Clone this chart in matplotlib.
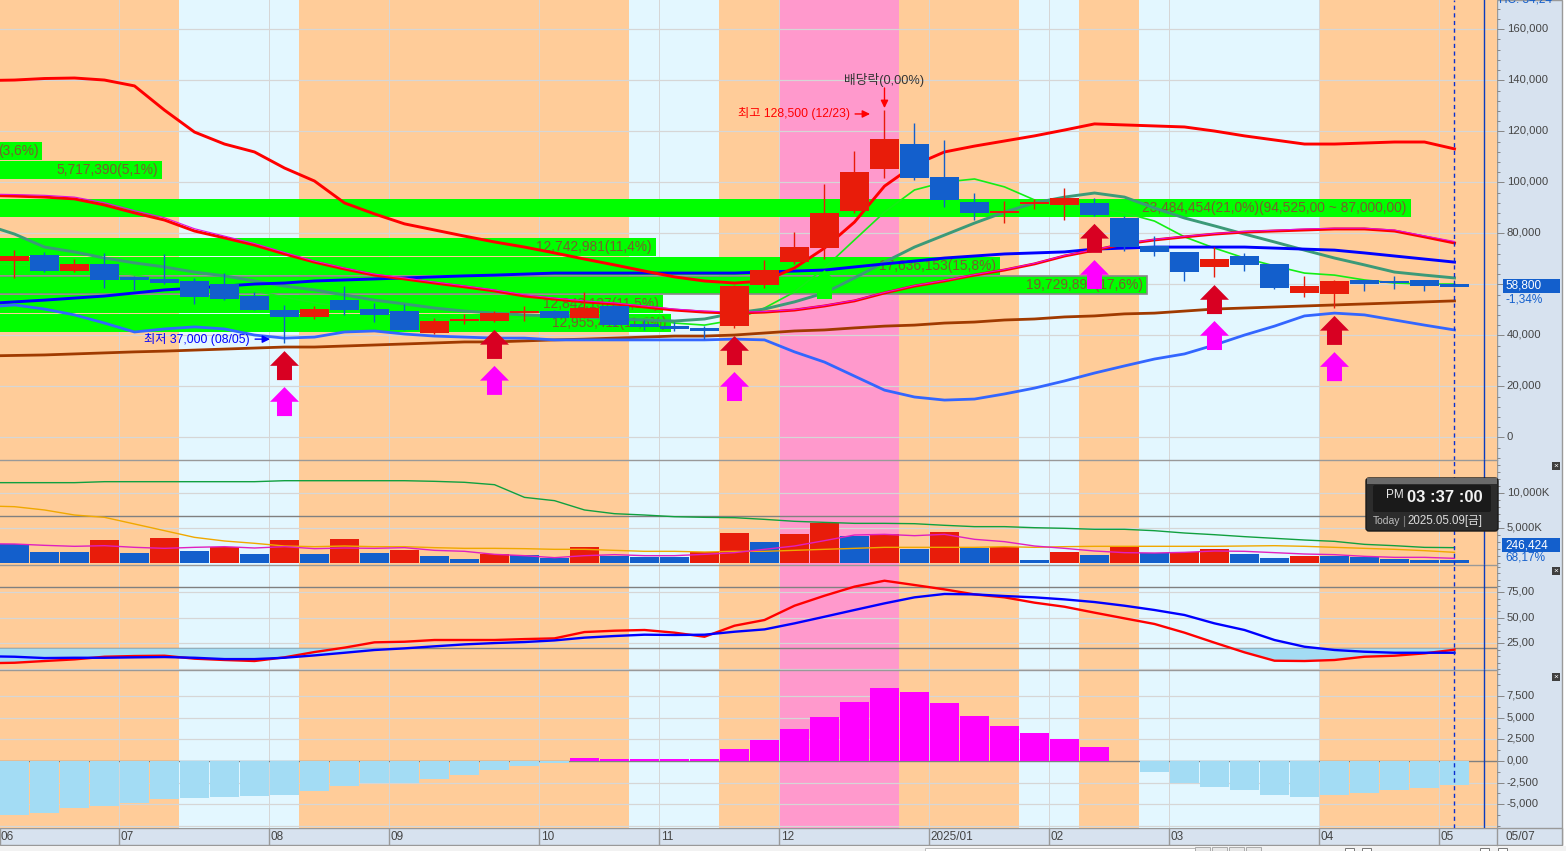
#! /usr/bin/python3

import numpy as np
import matplotlib
matplotlib.use("Agg")
import matplotlib.pyplot as plt
from matplotlib.patches import Polygon, Rectangle, FancyBboxPatch
from matplotlib.ticker import FuncFormatter, MultipleLocator
from matplotlib.transforms import ScaledTranslation

plt.rcParams['font.family'] = ['Liberation Sans', 'Noto Sans CJK KR', 'DejaVu Sans']

# weekly candles, prices in thousand won
opens = [69.3, 71.4, 65.2, 68.0, 62.9, 62.1, 61.3, 60.1, 55.4, 49.9, 47.2, 53.8, 50.3, 49.5, 40.9, 45.6, 45.6,
         48.9, 49.6, 46.9, 51.6, 44.4, 43.6, 42.9, 43.6, 59.7, 68.7, 74.2, 88.7, 105.2, 115.0, 102.1, 92.3,
         88.0, 91.5, 91.1, 91.9, 86.0, 75.0, 72.7, 66.8, 71.1, 68.0, 56.6, 56.2, 61.7, 61.3, 61.7, 60.1]
closes = [71.1, 65.2, 68.0, 61.8, 61.7, 60.5, 55.1, 54.2, 49.9, 47.2, 50.3, 49.9, 48.0, 42.1, 45.6, 46.4, 48.7,
          49.6, 46.9, 50.8, 44.0, 43.1, 42.5, 41.7, 59.3, 65.6, 74.6, 88.0, 104.0, 117.0, 101.7, 93.1, 88.0,
          88.7, 92.3, 93.8, 87.2, 74.7, 72.7, 64.8, 69.9, 67.6, 58.55, 59.3, 61.3, 60.1, 60.5, 59.3, 58.8]
highs = [73.4, 72.5, 69.9, 72.2, 63.3, 71.9, 62.5, 64.4, 57.0, 51.9, 51.5, 59.3, 52.7, 52.3, 46.8, 48.3, 49.5,
         51.5, 49.9, 57.0, 51.9, 46.0, 45.2, 43.6, 59.7, 69.5, 80.5, 99.3, 112.3, 128.5, 123.3, 116.6, 95.8,
         92.7, 93.5, 97.8, 93.8, 86.8, 78.9, 72.7, 74.7, 72.3, 68.0, 63.3, 61.7, 61.7, 63.3, 61.7, 60.1]
lows = [62.6, 64.8, 64.8, 58.7, 57.8, 60.1, 52.3, 53.8, 49.9, 37.1, 46.4, 48.0, 45.2, 42.1, 40.5, 44.4, 45.2,
        45.7, 46.8, 46.8, 43.8, 42.1, 41.7, 38.4, 43.0, 58.7, 68.0, 69.9, 88.0, 101.7, 100.9, 90.3, 85.2,
        84.0, 89.5, 85.2, 86.8, 73.2, 71.1, 61.3, 62.9, 65.2, 58.2, 55.0, 50.7, 57.4, 58.2, 57.4, 58.8]

# line series start one week before the first candle, that week is off the left edge
band_upper = [139.9, 140.1, 140.7, 140.9, 140.1, 137.8, 128.3, 119.7, 115.0, 111.9, 105.6, 100.5, 91.9, 87.6, 83.7,
              81.3, 78.9, 76.6, 74.6, 72.3, 69.9, 67.6, 65.2, 62.9, 61.3, 60.5, 61.3, 66.4, 74.2, 84.4, 98.5, 106.8,
              111.9, 114.2, 116.2, 118.2, 120.5, 122.9, 122.5, 122.1, 121.7, 120.1, 118.2, 116.6, 115.0, 115.0,
              115.4, 115.8, 115.8, 113.1]
ma_red = [94.9, 94.6, 94.2, 93.5, 91.1, 88.0, 85.2, 80.9, 78.2, 75.4, 71.9, 68.7, 66.0, 63.6, 62.1, 60.5, 59.0, 57.4,
          55.4, 54.2, 53.1, 52.3, 51.1, 49.9, 49.1, 48.7, 49.1, 49.9, 51.5, 53.5, 56.6, 59.3, 61.3, 63.6, 65.6,
          68.0, 71.1, 73.4, 75.8, 77.4, 78.6, 79.7, 80.5, 80.9, 81.3, 81.7, 81.7, 80.9, 78.6, 76.2]
ma_magenta = [95.4, 95.2, 94.9, 94.2, 92.0, 88.9, 86.1, 81.8, 78.9, 76.0, 72.5, 69.1, 66.4, 64.0, 62.5, 60.9, 59.4,
              57.8, 55.9, 54.6, 53.5, 52.7, 51.5, 50.3, 49.5, 49.1, 49.3, 50.1, 51.7, 53.7, 56.8, 59.5, 61.5, 63.8,
              65.8, 68.2, 71.3, 73.6, 76.0, 77.6, 78.8, 79.9, 80.7, 81.2, 81.7, 82.0, 82.0, 81.3, 79.0, 76.8]
ma_teal = [83.5, 79.7, 74.6, 72.7, 70.3, 68.4, 66.8, 64.8, 63.3, 61.3, 59.3, 57.8, 55.8, 53.8, 52.3, 50.7, 49.5, 48.7,
           48.0, 47.6, 47.2, 46.4, 46.0, 45.6, 46.4, 48.7, 50.3, 53.1, 56.6, 62.5, 68.7, 74.6, 79.3, 84.0, 88.3,
           91.9, 94.2, 95.8, 94.2, 89.9, 86.0, 82.9, 79.7, 76.6, 73.4, 70.3, 67.6, 64.8, 63.6, 62.5]
ma_lime = [68.0, 67.6, 67.2, 66.4, 65.6, 63.6, 61.7, 60.5, 59.0, 57.4, 55.0, 52.7, 51.1, 49.9, 48.0, 46.8, 46.0, 45.6,
           46.8, 48.0, 48.7, 48.0, 46.8, 44.8, 44.0, 46.0, 50.7, 57.0, 66.4, 77.4, 88.3, 97.0, 100.1, 101.3, 98.2,
           93.1, 91.1, 90.3, 88.0, 84.8, 78.6, 74.2, 70.3, 67.2, 64.4, 63.6, 61.7, 60.5, 60.1, 60.1]
ma_blue = [52.4, 53.1, 53.8, 54.6, 55.4, 56.6, 57.8, 58.5, 59.3, 60.1, 60.5, 61.3, 61.7, 62.1, 62.5, 62.9, 63.3, 63.6,
           64.0, 64.4, 64.4, 64.4, 64.4, 64.4, 64.4, 64.4, 64.8, 65.2, 65.6, 66.8, 68.0, 69.1, 70.3, 71.1, 71.9,
           72.3, 72.7, 73.8, 74.2, 74.6, 74.6, 74.6, 74.6, 74.2, 73.8, 73.4, 72.3, 71.1, 69.9, 68.7]
ma_brown = [31.9, 32.1, 32.3, 32.7, 33.1, 33.5, 33.8, 34.2, 34.6, 35.0, 35.4, 35.4, 35.8, 36.2, 36.6, 37.0, 37.4, 37.4,
            37.8, 38.2, 38.5, 38.9, 39.3, 39.7, 39.7, 40.1, 40.9, 41.7, 42.1, 42.9, 43.6, 44.0, 44.8, 45.2, 46.0,
            46.4, 47.2, 47.6, 48.4, 48.7, 49.5, 50.3, 50.7, 51.1, 51.5, 51.9, 52.3, 52.7, 53.1, 53.5]
band_lower = [51.0, 51.9, 50.3, 48.0, 44.8, 41.3, 42.5, 43.3, 42.5, 40.1, 38.9, 39.3, 41.3, 41.7, 40.5, 39.7, 39.3,
              38.9, 38.9, 38.2, 38.2, 38.2, 38.2, 38.2, 38.2, 38.5, 38.2, 33.5, 29.5, 24.0, 18.5, 15.8, 14.6, 15.0,
              17.0, 19.3, 22.1, 25.2, 28.0, 30.7, 32.7, 36.2, 40.1, 43.6, 47.6, 48.7, 48.0, 46.0, 44.0, 42.1]

# volume by price bars on the left
profile_price = [112.3, 104.8, 89.9, 74.6, 67.2, 59.7, 52.3, 44.8]
profile_vol = [4018000, 5717390, 23484454, 12742981, 17636153, 19729894, 12842137, 12955411]
profile_text = ["(3,6%)", "5,717,390(5,1%)", "23,484,454(21,0%)(94,525,00 ~ 87,000,00)", "12,742,981(11,4%)",
                "17,636,153(15,8%)", "19,729,894(17,6%)", "12,842,137(11,5%)", "12,955,411(11,6%)"]

# signal arrows
arrow_idx = [9, 16, 24, 36, 40, 44]
arrow_red_tip = [33.8, 42.1, 39.7, 83.7, 59.7, 47.6]
arrow_mag_tip = [19.7, 28.0, 25.6, 69.5, 45.6, 33.4]
arrow_green_idx = [27]
arrow_green_tip = [65.6]

# volume panel, in K
volumes = [2760, 1620, 1620, 3330, 1476, 3620, 1760, 2380, 1333, 3330, 1333, 3476, 1476, 1905, 1050, 620, 1333,
           1190, 810, 2330, 1095, 905, 905, 1570, 4330, 3050, 4190, 5810, 3900, 4140, 2050, 4475, 2240, 2380,
           476, 1620, 1190, 2330, 1430, 1570, 2050, 1333, 760, 1050, 1050, 905, 620, 476, 450]
vol_up = [0, 0, 0, 1, 0, 1, 0, 1, 0, 1, 0, 1, 0, 1, 0, 0, 1, 0, 0, 1, 0, 0, 0, 1, 1, 0, 1, 1, 0, 1, 0, 1, 0, 1,
          0, 1, 0, 1, 0, 1, 1, 0, 0, 1, 0, 0, 0, 0, 0]
vol_ma_green = [11520, 11520, 11520, 11520, 11660, 11660, 11660, 11660, 11660, 11660, 11800, 11800, 11800, 11800, 11800,
                11710, 11570, 11230, 9420, 8950, 7620, 7090, 6900, 6660, 6570, 6520, 6280, 6000, 5850, 5710, 5710,
                5660, 5430, 5240, 5240, 5090, 5000, 4860, 4860, 4660, 4330, 4090, 3810, 3570, 3330, 3140, 2710,
                2520, 2280, 2240]
vol_ma_orange = [8200, 8090, 7620, 6900, 6570, 5620, 4665, 3710, 3190, 2860, 2475, 2380, 2475, 2380, 2380, 2240, 2140,
                 2140, 2095, 2000, 2000, 1855, 1715, 1715, 1620, 1715, 1715, 1855, 2000, 2140, 2285, 2285, 2285, 2285,
                 2380, 2285, 2380, 2430, 2430, 2430, 2430, 2430, 2475, 2520, 2430, 2285, 2140, 2000, 1810, 1570]
vol_ma_magenta = [2800, 2760, 2570, 2430, 2520, 2285, 2140, 2285, 2380, 2190, 2380, 2095, 2190, 2140, 2240, 1855, 1715,
                  1285, 1095, 810, 1095, 1240, 1095, 1095, 1285, 1525, 2000, 2475, 3240, 4045, 4140, 3950, 4140, 3430,
                  3095, 2475, 2140, 1760, 1525, 1475, 1570, 1760, 1715, 1525, 1333, 1240, 1000, 857, 857, 714]

# oscillator panel
osc_red = [5.5, 6.0, 7.7, 9.3, 11.9, 12.6, 12.9, 10.0, 8.7, 7.7, 11.3, 16.5, 20.8, 26.0, 26.6, 28.3, 28.3, 28.3, 29.2,
           29.9, 36.1, 37.4, 38.1, 35.5, 31.5, 42.3, 47.9, 61.9, 71.7, 80.6, 86.4, 82.2, 77.9, 73.0, 70.1, 64.9, 60.9,
           55.1, 49.5, 44.0, 35.5, 25.7, 16.2, 8.0, 7.7, 8.7, 11.9, 12.9, 15.2, 18.8]
osc_blue = [12.4, 11.9, 10.6, 10.9, 10.9, 11.3, 11.6, 10.9, 9.6, 9.6, 10.9, 13.2, 15.8, 18.5, 20.1, 22.1, 24.0, 25.3,
            26.3, 27.9, 30.6, 32.2, 33.5, 33.2, 33.5, 36.4, 38.7, 44.6, 51.1, 57.7, 64.2, 70.1, 73.4, 73.0, 71.4, 70.1,
            68.1, 65.5, 61.9, 57.7, 52.8, 44.6, 38.1, 28.3, 21.7, 18.5, 16.8, 15.8, 15.8, 15.8]

# MACD histogram
hist_vals = [-6230, -6000, -5385, -5150, -4850, -4385, -4230, -4115, -4000, -3885, -3460, -2850, -2540, -2540, -2080,
             -1615, -1000, -540, -230, 350, 230, 230, 230, 230, 1385, 2420, 3690, 5080, 6810, 8420, 7960, 6690, 5190,
             4040, 3230, 2540, 1615, 0, -1230, -2500, -2960, -3310, -3920, -4115, -3920, -3690, -3310, -3080, -2770]

# background bands, edges in candle index
band_edges = [-8.5, 5.5, 9.5, 20.5, 23.5, 25.5, 29.5, 33.5, 35.5, 37.5, 43.5, 52]
band_colors = ['#ffcc99', '#e3f7ff', '#ffcc99', '#e3f7ff', '#ffcc99', '#ff99cc', '#ffcc99', '#e3f7ff', '#ffcc99',
               '#e3f7ff', '#ffcc99']

month_pos = [-0.5, 3.5, 8.5, 12.5, 17.5, 21.5, 25.5, 30.5, 34.5, 38.5, 43.5, 47.5]
month_labels = ['06', '07', '08', '09', '10', '11', '12', '2025/01', '02', '03', '04', '05']

W, H = 1566, 851
PLOT_R = 1497
X0, X1 = -0.483, 49.417
RED = '#e81c0a'
BLUE = '#135fcc'
GRID = '#d6d6d6'
EDGE = '#999999'
TICKC = '#444444'
PX = 0.72  # one pixel in points


def add_panel(top, bottom, ylim, zorder=1):
    ax = fig.add_axes([0, 1 - bottom / H, PLOT_R / W, (bottom - top) / H], zorder=zorder)
    ax.set_xlim(X0, X1)
    ax.set_ylim(*ylim)
    for left, right, c in zip(band_edges[:-1], band_edges[1:], band_colors):
        ax.axvspan(left, right, color=c, lw=0, zorder=0)
    for p in month_pos:
        ax.axvline(p, color=GRID, lw=PX, zorder=0.5)
    ax.axvline(48, color='#0b2fd0', lw=1.0, ls=(0, (3, 2.5)), zorder=8)
    ax.axvline(49, color='#0a3cc0', lw=1.0, zorder=8)
    ax.set_xticks([])
    ax.yaxis.tick_right()
    ax.tick_params(axis='y', which='major', length=5, width=PX, color='#888888', labelsize=8.1,
                   labelcolor=TICKC, pad=2)
    ax.tick_params(axis='y', which='minor', length=2.5, width=PX, color='#888888')
    for s in ax.spines.values():
        s.set_visible(False)
    if top > 0:
        ax.spines['top'].set_visible(True)
        ax.spines['top'].set_color(EDGE)
        ax.spines['top'].set_linewidth(1.0)
    return ax


def hgrid(ax, values):
    for v in values:
        ax.axhline(v, color=GRID, lw=PX * 1.2, zorder=0.5)


def lift_labels(ax):
    # scale labels sit a little above their tick
    off = ScaledTranslation(0, 1.5 / 100, fig.dpi_scale_trans)
    for lab in ax.get_yticklabels():
        lab.set_transform(lab.get_transform() + off)


def comma_dec(v, pos):
    return f"{v:,.2f}".replace('.', ',')


fig = plt.figure(figsize=(W / 100, H / 100), dpi=100, facecolor='white')

# right scale and bottom strip background
bg = fig.add_axes([0, 0, 1, 1], zorder=0)
bg.set_xlim(0, W)
bg.set_ylim(H, 0)
bg.axis('off')
bg.add_patch(Rectangle((PLOT_R, 0), 65, 845, fc='#d7e2ef', ec=EDGE, lw=1))
bg.add_patch(Rectangle((0, 828), 1562, 17, fc='#d7e2ef', ec=EDGE, lw=1))
bg.add_patch(Rectangle((0, 845.5), W, 6, fc='#f2f2f2', ec='none'))
bg.add_patch(Rectangle((925, 848), 270, 4, fc='white', ec='#bbbbbb', lw=0.7))
for bx in [1195, 1212, 1229, 1246]:
    bg.add_patch(Rectangle((bx, 847), 15, 5, fc='#e8e8e8', ec='#aaaaaa', lw=0.7))
for bx in [1345, 1362, 1480, 1498]:
    bg.add_patch(Rectangle((bx, 848), 9, 4, fc='#ffffff', ec='#777777', lw=0.7))

# price panel
idx = np.arange(len(closes))
line_idx = np.arange(-1, len(closes))
ax = add_panel(0, 460, (-8900, 171490))
ax.yaxis.set_major_locator(MultipleLocator(20000))
ax.yaxis.set_minor_locator(MultipleLocator(4000))
ax.yaxis.set_major_formatter(FuncFormatter(lambda v, p: f"{v:,.0f}"))
hgrid(ax, np.arange(0, 170000, 20000))

bar_left = -8.483
bar_scale = 70.3 / 30 / 1e6
for i, (p, v, t) in enumerate(zip(profile_price, profile_vol, profile_text)):
    edge = '#888888' if i == 5 else 'none'
    right = bar_left + v * bar_scale
    ax.barh(p * 1000, v * bar_scale, left=bar_left, height=7000, color='#00ff00', edgecolor=edge,
            lw=1.2, zorder=1)
    ax.text(right - 0.14, p * 1000, t, ha='right', va='center', color='#7a5c2e', fontsize=9.9, zorder=2,
            clip_on=True)

ax.plot(line_idx, np.array(ma_lime) * 1000, color='#14ee14', lw=1.2, zorder=3)
ax.plot(line_idx, np.array(ma_teal) * 1000, color='#3c9a78', lw=2.1, zorder=3.1)
ax.plot(line_idx, np.array(ma_blue) * 1000, color='#0000ff', lw=2.1, zorder=3.2)
ax.plot(line_idx, np.array(ma_brown) * 1000, color='#a03a00', lw=2.0, zorder=3.2)
ax.plot(line_idx, np.array(band_lower) * 1000, color='#3366ff', lw=2.0, zorder=3.3)
ax.plot(line_idx, np.array(ma_red) * 1000, color='#ff0000', lw=2.1, zorder=3.4)
ax.plot(line_idx, np.array(ma_magenta) * 1000, color='#e010e0', lw=0.8, zorder=3.5)
ax.plot(line_idx, np.array(band_upper) * 1000, color='#ff0000', lw=2.1, zorder=3.6)

o = np.array(opens) * 1000
c = np.array(closes) * 1000
cols = [RED if cc >= oo else BLUE for oo, cc in zip(o, c)]
ax.vlines(idx, np.array(lows) * 1000, np.array(highs) * 1000, colors=cols, lw=1.0, zorder=4)
ax.bar(idx, np.abs(c - o), bottom=np.minimum(o, c), width=29 / 30, color=cols, lw=0, zorder=4.1)


def up_arrow(axis, i, tip, color):
    hw, sw = 0.483, 0.25
    head, total = 5770, 11370
    pts = [(i, tip), (i + hw, tip - head), (i + sw, tip - head), (i + sw, tip - total),
           (i - sw, tip - total), (i - sw, tip - head), (i - hw, tip - head)]
    axis.add_patch(Polygon(pts, closed=True, fc=color, ec='none', zorder=6))


for i, t_r, t_m in zip(arrow_idx, arrow_red_tip, arrow_mag_tip):
    up_arrow(ax, i, t_r * 1000, '#d80022')
    up_arrow(ax, i, t_m * 1000, '#ff00ff')
for i, t in zip(arrow_green_idx, arrow_green_tip):
    up_arrow(ax, i, t * 1000, '#00ff00')

ann_arrow = dict(arrowstyle='-|>,head_length=0.45,head_width=0.22', lw=1.0, shrinkA=0, shrinkB=0)
ax.text(29, 140100, "배당락(0,00%)", ha='center', va='center', color='#333333', fontsize=9.2, zorder=7)
ax.annotate("", xy=(29, 129100), xytext=(29, 137000), zorder=7, arrowprops=dict(ann_arrow, color='#ff0000'))
ax.text(27.85, 126800, "최고 128,500 (12/23)", ha='right', va='center', color='#ff0000', fontsize=8.8, zorder=7)
ax.annotate("", xy=(28.52, 126800), xytext=(28.02, 126800), zorder=7, arrowprops=dict(ann_arrow, color='#ff0000'))
ax.text(7.85, 38500, "최저 37,000 (08/05)", ha='right', va='center', color='#0000ff', fontsize=8.8, zorder=7)
ax.annotate("", xy=(8.52, 38500), xytext=(8.02, 38500), zorder=7, arrowprops=dict(ann_arrow, color='#0000ff'))

# volume panel
ax_v = add_panel(460, 565, (-238, 14756))
ax_v.yaxis.set_minor_locator(MultipleLocator(1000))
ax_v.set_yticks([5000, 10000])
ax_v.yaxis.set_major_formatter(FuncFormatter(lambda v, p: f"{v:,.0f}K"))
hgrid(ax_v, [5000, 10000])
ax_v.axhline(6810, color='#808080', lw=1.0, zorder=0.7)
ax_v.bar(idx, volumes, width=29 / 30, color=[RED if u else BLUE for u in vol_up], lw=0, zorder=2)
ax_v.plot(line_idx, vol_ma_green, color='#10a040', lw=1.0, zorder=3)
ax_v.plot(line_idx, vol_ma_orange, color='#f0a800', lw=1.0, zorder=3)
ax_v.plot(line_idx, vol_ma_magenta, color='#e020c0', lw=1.0, zorder=3)
ax_v.set_ylim(-238, 14756)

# oscillator panel
ax_o = add_panel(565, 670, (-1.1, 101.8))
ax_o.set_yticks([25, 50, 75])
ax_o.yaxis.set_minor_locator(MultipleLocator(6.25))
ax_o.yaxis.set_major_formatter(FuncFormatter(comma_dec))
hgrid(ax_o, [0, 25, 50, 75])
ax_o.axhline(80, color='#808080', lw=1.0, zorder=0.7)
ax_o.axhline(20, color='#808080', lw=1.0, zorder=0.7)
low_line = np.minimum(osc_red, osc_blue)
ax_o.fill_between(line_idx, 20, low_line, where=low_line < 20, interpolate=True, color='#a3dcf4', lw=0, zorder=1)
ax_o.plot(line_idx, osc_red, color='#ff0000', lw=1.7, zorder=3)
ax_o.plot(line_idx, osc_blue, color='#0000ff', lw=1.7, zorder=3.1)

# histogram panel
ax_h = add_panel(670, 828, (-7731, 10500))
ax_h.set_yticks([-5000, -2500, 0, 2500, 5000, 7500])
ax_h.yaxis.set_minor_locator(MultipleLocator(1250))
ax_h.yaxis.set_major_formatter(FuncFormatter(lambda v, p: "0,00" if v == 0 else f"{v:,.0f}"))
hgrid(ax_h, [-7500, -5000, -2500, 2500, 5000, 7500])
ax_h.axhline(0, color='#808080', lw=1.0, zorder=0.7)
ax_h.bar(idx, hist_vals, width=29 / 30, lw=0, zorder=2,
         color=['#ff00ff' if v > 0 else '#a3dcf4' for v in hist_vals])

for a in (ax, ax_v, ax_o, ax_h):
    lift_labels(a)

# month strip
ax_x = fig.add_axes([0, 1 - 845 / H, PLOT_R / W, 17 / H], zorder=2)
ax_x.set_xlim(X0, X1)
ax_x.set_ylim(0, 1)
ax_x.axis('off')
for p, lab in zip(month_pos, month_labels):
    ax_x.axvline(p, color=EDGE, lw=1.0)
    ax_x.text(p + 0.04, 0.47, lab, ha='left', va='center', fontsize=8.5, color=TICKC)

# overlay: value boxes, window buttons and clock
top = fig.add_axes([0, 0, 1, 1], zorder=5)
top.set_xlim(0, W)
top.set_ylim(H, 0)
top.axis('off')
top.patch.set_alpha(0)
top.plot([PLOT_R, PLOT_R], [828, 845], color=EDGE, lw=1.0)
top.text(1505, 836.5, "05/07", fontsize=8.5, color=TICKC, va='center')
top.text(1499, 0, "HC: 34,24", fontsize=8.5, color=BLUE, va='center', clip_on=True)
top.add_patch(Rectangle((1503, 279), 57, 14, fc=BLUE, ec='none'))
top.text(1505, 286, "58,800", fontsize=8.5, color='white', va='center')
top.text(1506, 299, "-1,34%", fontsize=8.5, color=BLUE, va='center')
top.add_patch(Rectangle((1502, 538), 58, 14, fc=BLUE, ec='none'))
top.text(1505, 545, "246,424", fontsize=8.5, color='white', va='center')
top.text(1505, 557, "68,17%", fontsize=8.5, color=BLUE, va='center')
for by in [466, 571, 677]:
    top.add_patch(Rectangle((1552, by - 4), 8, 8, fc='#3f3f3f', ec='none'))
    top.text(1556, by, "×", fontsize=6, color='white', ha='center', va='center')

top.add_patch(FancyBboxPatch((1366, 478), 132, 53, boxstyle="round,pad=0,rounding_size=3", fc='#2c2c2c',
                             ec='#1a1a1a', lw=1))
top.add_patch(Rectangle((1367, 478), 130, 6, fc='#6a6a6a', ec='none'))
top.add_patch(FancyBboxPatch((1373, 485), 118, 27, boxstyle="round,pad=0,rounding_size=2", fc='#1a1a1a', ec='none'))
top.text(1386, 495, "PM", fontsize=8.5, color='#e8e8e8', va='center')
top.text(1407, 497.5, "03 :37 :00", fontsize=12, color='#f2f2f2', va='center', fontweight='bold')
top.text(1373, 521, "Today", fontsize=7.5, color='#bdbdbd', va='center')
top.plot([1404, 1404], [516, 526], color='#777777', lw=0.8)
top.text(1407, 521, "2025.05.09[금]", fontsize=8.3, color='#dddddd', va='center')

fig.savefig("out.png", dpi=100, facecolor='white')
